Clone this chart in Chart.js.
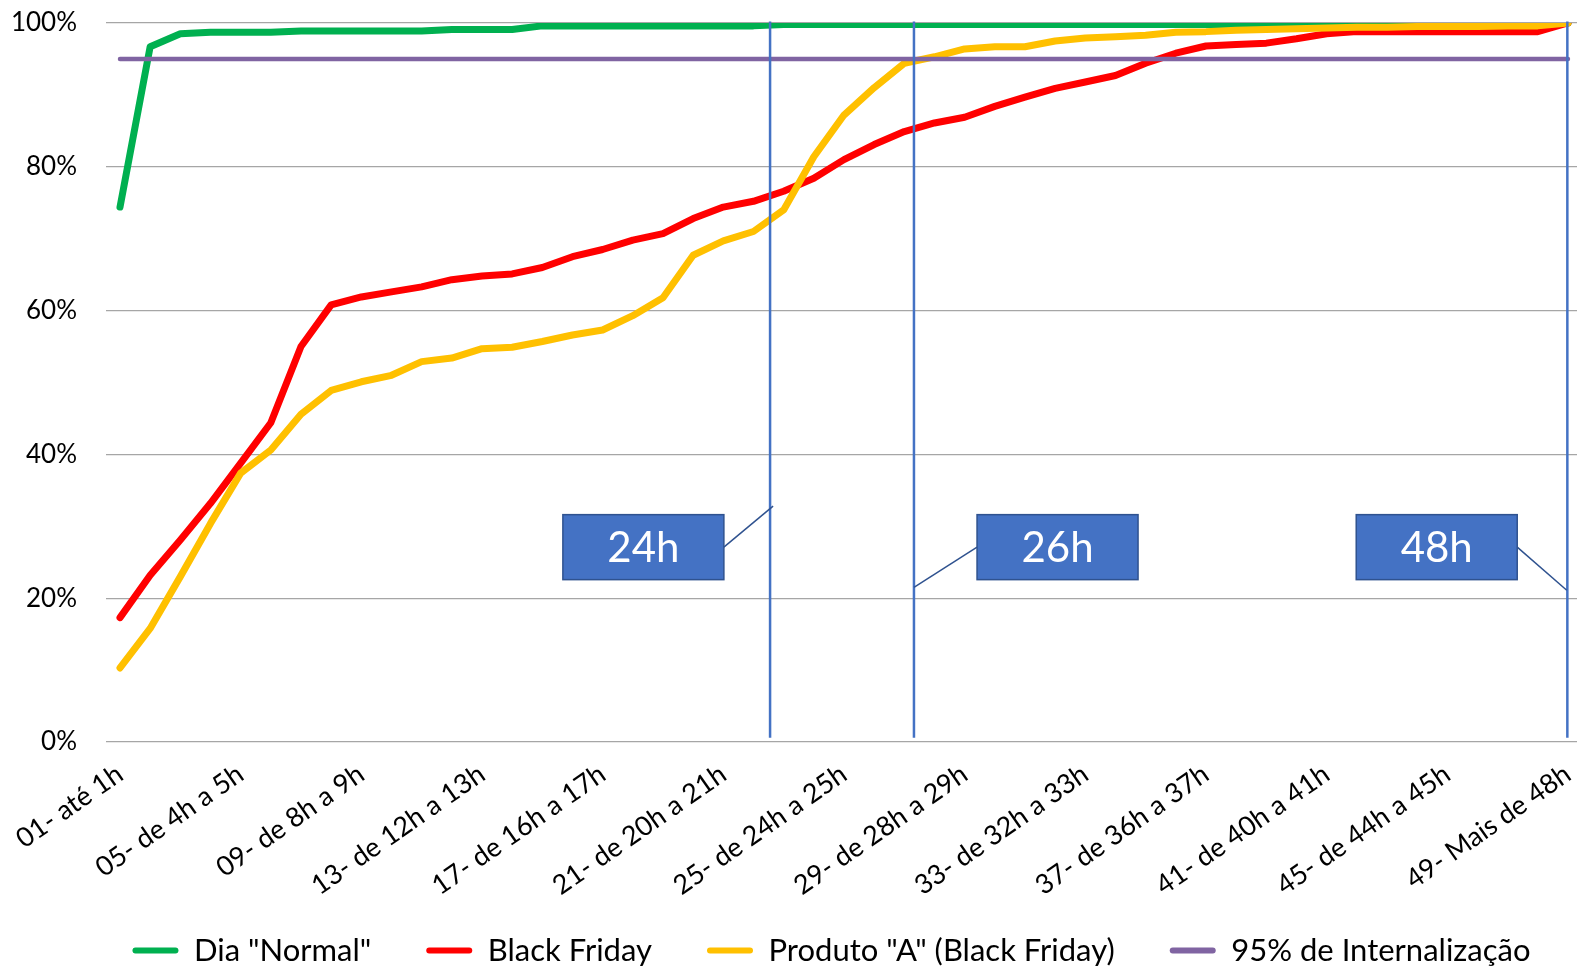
<!DOCTYPE html>
<html>
<head>
<meta charset="utf-8">
<script src="https://cdn.jsdelivr.net/npm/chart.js@4.4.1/dist/chart.umd.min.js"></script>
<style>
  html, body { margin: 0; padding: 0; background: #fff; }
  #wrap { width: 1577px; height: 970px; }
</style>
</head>
<body>
<div id="wrap"><canvas id="chart" width="1577" height="970"></canvas></div>
<script>
const categories = [
  '01- até 1h', '02- de 1h a 2h', '03- de 2h a 3h', '04- de 3h a 4h', '05- de 4h a 5h',
  '06- de 5h a 6h', '07- de 6h a 7h', '08- de 7h a 8h', '09- de 8h a 9h', '10- de 9h a 10h',
  '11- de 10h a 11h', '12- de 11h a 12h', '13- de 12h a 13h', '14- de 13h a 14h', '15- de 14h a 15h',
  '16- de 15h a 16h', '17- de 16h a 17h', '18- de 17h a 18h', '19- de 18h a 19h', '20- de 19h a 20h',
  '21- de 20h a 21h', '22- de 21h a 22h', '23- de 22h a 23h', '24- de 23h a 24h', '25- de 24h a 25h',
  '26- de 25h a 26h', '27- de 26h a 27h', '28- de 27h a 28h', '29- de 28h a 29h', '30- de 29h a 30h',
  '31- de 30h a 31h', '32- de 31h a 32h', '33- de 32h a 33h', '34- de 33h a 34h', '35- de 34h a 35h',
  '36- de 35h a 36h', '37- de 36h a 37h', '38- de 37h a 38h', '39- de 38h a 39h', '40- de 39h a 40h',
  '41- de 40h a 41h', '42- de 41h a 42h', '43- de 42h a 43h', '44- de 43h a 44h', '45- de 44h a 45h',
  '46- de 45h a 46h', '47- de 46h a 47h', '48- de 47h a 48h', '49- Mais de 48h'
];

// % acumulado
const diaNormal = [
  74.4, 96.7, 98.5, 98.7, 98.7, 98.7, 98.9, 98.9, 98.9, 98.9,
  98.9, 99.1, 99.1, 99.1, 99.6, 99.6, 99.6, 99.6, 99.6, 99.6,
  99.6, 99.6, 99.8, 99.8, 99.8, 99.8, 99.8, 99.8, 99.8, 99.8,
  99.8, 99.8, 99.8, 99.8, 99.8, 99.8, 99.8, 99.8, 99.8, 99.8,
  99.8, 99.8, 99.8, 99.8, 99.8, 99.8, 99.8, 99.8, 100
];
const blackFriday = [
  17.3, 23.2, 28.1, 33.2, 38.8, 44.4, 55.0, 60.8, 61.9, 62.6,
  63.3, 64.3, 64.8, 65.1, 66.0, 67.5, 68.5, 69.8, 70.7, 72.8,
  74.4, 75.2, 76.6, 78.4, 81.0, 83.1, 84.9, 86.1, 86.9, 88.4,
  89.7, 90.9, 91.8, 92.7, 94.4, 95.8, 96.8, 97.0, 97.2, 97.8,
  98.5, 98.8, 98.8, 98.8, 98.8, 98.8, 98.8, 98.8, 100
];
const produtoA = [
  10.3, 15.8, 23.0, 30.4, 37.4, 40.6, 45.6, 48.9, 50.1, 51.0,
  52.9, 53.4, 54.7, 54.9, 55.7, 56.6, 57.3, 59.3, 61.8, 67.7,
  69.7, 71.0, 74.0, 81.4, 87.2, 91.0, 94.4, 95.3, 96.4, 96.7,
  96.7, 97.5, 97.9, 98.1, 98.3, 98.7, 98.8, 99.0, 99.1, 99.2,
  99.3, 99.4, 99.4, 99.5, 99.5, 99.5, 99.6, 99.6, 100
];
const meta95 = [
  95, 95, 95, 95, 95, 95, 95, 95, 95, 95,
  95, 95, 95, 95, 95, 95, 95, 95, 95, 95,
  95, 95, 95, 95, 95, 95, 95, 95, 95, 95,
  95, 95, 95, 95, 95, 95, 95, 95, 95, 95,
  95, 95, 95, 95, 95, 95, 95, 95, 95
];
const yTicks = [0, 20, 40, 60, 80, 100];

// marcos de tempo (linha vertical + caixa com texto)
const marcos = [
  { texto: '24h', linha: 21.55, caixa: [17.35, 27.1], liga: [21.65, 32.8], lado: 'right' },
  { texto: '26h', linha: 26.32, caixa: [31.08, 27.1], liga: [26.32, 21.5], lado: 'left' },
  { texto: '48h', linha: 47.98, caixa: [43.65, 27.1], liga: [47.96, 21.1], lado: 'right' }
];

const FONT = 'Lato';
const pts = arr => arr.map((v, i) => ({ x: i, y: v }));

const marcosPlugin = {
  id: 'marcos',
  afterLayout(chart) {
    // legenda do original fica um pouco à direita do centro
    chart.legend.left += 43;
    chart.legend.right += 43;
  },
  afterDatasetsDraw(chart) {
    const { ctx, scales: { x, y } } = chart;
    ctx.save();
    marcos.forEach(m => {
      const lx = x.getPixelForValue(m.linha);
      ctx.strokeStyle = '#4472C4';
      ctx.lineWidth = 2.5;
      ctx.beginPath();
      ctx.moveTo(lx, y.getPixelForValue(100.2));
      ctx.lineTo(lx, y.getPixelForValue(0.6));
      ctx.stroke();

      const cx = x.getPixelForValue(m.caixa[0]);
      const cy = y.getPixelForValue(m.caixa[1]);
      const w = 161, h = 65;
      const sx = m.lado === 'right' ? cx + w / 2 : cx - w / 2;
      ctx.strokeStyle = '#2F528F';
      ctx.lineWidth = 1.5;
      ctx.beginPath();
      ctx.moveTo(sx, cy);
      ctx.lineTo(x.getPixelForValue(m.liga[0]), y.getPixelForValue(m.liga[1]));
      ctx.stroke();

      ctx.fillStyle = '#4472C4';
      ctx.fillRect(cx - w / 2, cy - h / 2, w, h);
      ctx.strokeRect(cx - w / 2, cy - h / 2, w, h);
      ctx.fillStyle = '#fff';
      ctx.font = '42px ' + FONT;
      ctx.textAlign = 'center';
      ctx.textBaseline = 'middle';
      ctx.fillText(m.texto, cx, cy + 1);
    });
    ctx.restore();
  }
};

function draw() {
  const ctx = document.getElementById('chart').getContext('2d');
  const tickIdx = categories.map((c, i) => i).filter(i => i % 4 === 0);

  new Chart(ctx, {
    type: 'line',
    data: {
      datasets: [
        { label: 'Dia "Normal"', data: pts(diaNormal), borderColor: '#00B050', backgroundColor: '#00B050', borderWidth: 7, order: 4 },
        { label: 'Black Friday', data: pts(blackFriday), borderColor: '#FF0000', backgroundColor: '#FF0000', borderWidth: 7, order: 3 },
        { label: 'Produto "A" (Black Friday)', data: pts(produtoA), borderColor: '#FFC000', backgroundColor: '#FFC000', borderWidth: 7, order: 2 },
        { label: '95% de Internalização', data: pts(meta95), borderColor: '#8064A2', backgroundColor: '#8064A2', borderWidth: 4.5, order: 1 }
      ]
    },
    options: {
      responsive: false,
      animation: false,
      layout: { padding: { top: 23, left: 0, right: 0, bottom: -6 } },
      elements: {
        point: { radius: 0, hoverRadius: 0 },
        line: { tension: 0, borderCapStyle: 'round', borderJoinStyle: 'round' }
      },
      scales: {
        x: {
          type: 'linear',
          min: -0.464,
          max: 48.3,
          afterBuildTicks: s => { s.ticks = tickIdx.map(v => ({ value: v })); },
          afterFit: s => {
            s.height = 138;
            s.paddingLeft = 0;
            s.paddingRight = 0;
            s._computeLabelArea = () => undefined; // não cortar os rótulos inclinados
          },
          grid: { display: false },
          border: { display: false },
          ticks: {
            autoSkip: false,
            minRotation: 35,
            maxRotation: 35,
            padding: 8,
            color: '#000',
            font: { family: FONT, size: 27 },
            callback: v => categories[v]
          }
        },
        y: {
          min: 0,
          max: 100,
          afterBuildTicks: s => { s.ticks = yTicks.map(v => ({ value: v })); },
          afterFit: s => { s.width = 106; s.paddingTop = 0; s.paddingBottom = 0; },
          grid: { color: '#a6a6a6', lineWidth: 1.3, drawTicks: false },
          border: { display: false },
          ticks: {
            padding: 29,
            color: '#000',
            font: { family: FONT, size: 26 },
            callback: v => v + '%'
          }
        }
      },
      plugins: {
        tooltip: { enabled: false },
        legend: {
          position: 'bottom',
          labels: {
            boxWidth: 46,
            boxHeight: 6,
            useBorderRadius: true,
            borderRadius: 3,
            padding: 55,
            color: '#000',
            font: { family: FONT, size: 31 },
            sort: (a, b) => a.datasetIndex - b.datasetIndex,
            generateLabels: chart => Chart.defaults.plugins.legend.labels.generateLabels(chart)
              .map(it => ({ ...it, lineWidth: 0, fillStyle: it.strokeStyle }))
          }
        }
      }
    },
    plugins: [marcosPlugin]
  });
}

document.fonts.load('24px ' + FONT).then(draw, draw);
</script>
</body>
</html>
